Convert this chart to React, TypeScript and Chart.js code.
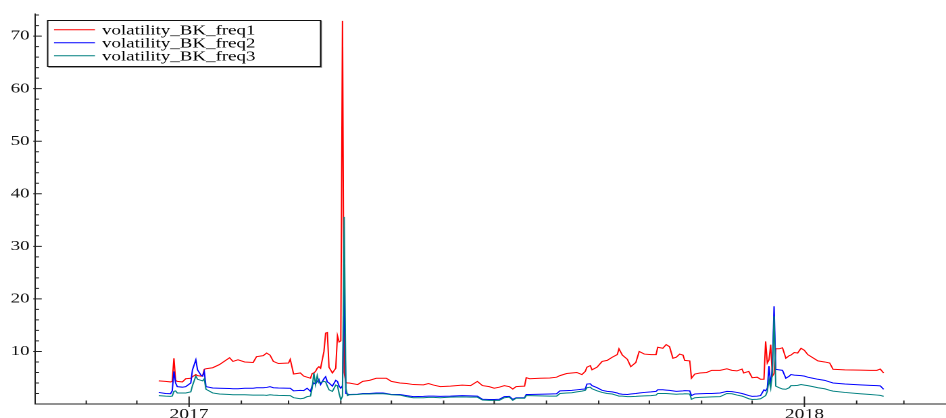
import React, { useEffect, useRef } from 'react';
import { Chart, registerables } from 'chart.js';

Chart.register(...registerables);

// ---- data ----
const seriesLabels = ['volatility_BK_freq1', 'volatility_BK_freq2', 'volatility_BK_freq3'];
const seriesColors = ['#ff0000', '#0000ff', '#008080'];

// days since 2017-01-01
const dayIndex = [
  -18, -14, -11, -10, -9, -8, -7, -4, -2, 1,
  2, 4, 5, 7, 8, 9, 10, 14, 18, 24,
  26, 29, 33, 38, 40, 44, 46, 48, 50, 53,
  59, 60, 62, 66, 68, 70, 72, 73, 74, 75,
  76, 77, 78, 80, 81, 82, 83, 85, 87, 88,
  89, 90, 91, 92, 93, 94, 95, 100, 103, 107,
  111, 115, 117, 120, 125, 129, 133, 139, 142, 145,
  149, 155, 162, 167, 171, 174, 178, 181, 184, 187,
  190, 192, 194, 196, 199, 200, 202, 208, 214, 218,
  220, 224, 227, 230, 233, 235, 236, 238, 239, 242,
  245, 248, 251, 254, 255, 257, 260, 262, 265, 267,
  270, 274, 277, 278, 281, 283, 285, 287, 289, 291,
  293, 294, 297, 298, 300, 303, 307, 310, 315, 319,
  322, 325, 328, 329, 332, 334, 337, 339, 341, 342,
  343, 344, 345, 346, 347, 348, 350, 352, 354, 356,
  357, 359, 361, 363, 365, 367, 370, 373, 377, 380,
  382, 389, 398, 404, 408, 410, 412,
];

const freq1 = [
  4.4, 4.3, 4.2, 4.3, 8.7, 4.5, 4.3, 4.2, 4.8, 4.9,
  5.2, 5.6, 5.4, 5.3, 5.3, 6.6, 6.7, 6.9, 7.5, 8.8,
  8.1, 8.4, 8.0, 7.9, 9.0, 9.2, 9.7, 9.3, 8.1, 7.7,
  7.8, 8.5, 5.7, 5.9, 5.3, 5.1, 4.9, 5.8, 5.9, 6.2,
  6.8, 7.1, 6.8, 10.0, 13.5, 13.6, 7.0, 5.9, 6.8, 13.0,
  11.8, 12.0, 72.9, 6.0, 4.1, 4.0, 4.0, 3.7, 4.3, 4.5,
  4.9, 4.9, 4.9, 4.3, 4.0, 3.9, 3.7, 3.65, 3.9, 3.6,
  3.3, 3.4, 3.6, 3.5, 4.3, 3.5, 3.3, 3.0, 3.2, 3.5,
  3.3, 2.85, 3.3, 3.35, 3.4, 5.0, 4.8, 4.9, 4.95, 5.1,
  5.4, 5.8, 5.9, 6.0, 5.6, 6.2, 7.0, 7.3, 6.5, 7.0,
  8.1, 8.3, 8.9, 9.4, 10.5, 9.3, 8.5, 7.1, 7.9, 10.0,
  9.5, 9.4, 9.4, 10.8, 10.6, 11.3, 10.9, 8.7, 8.9, 9.5,
  9.3, 8.3, 8.2, 4.9, 5.7, 5.9, 6.0, 6.4, 6.4, 6.7,
  6.4, 6.3, 6.65, 5.9, 6.2, 5.0, 5.1, 4.7, 4.7, 11.9,
  7.8, 8.4, 11.3, 5.3, 5.8, 10.5, 10.5, 10.7, 8.7, 9.2,
  9.3, 9.8, 9.7, 10.6, 10.2, 9.4, 8.8, 8.2, 8.0, 7.8,
  6.6, 6.5, 6.45, 6.4, 6.4, 6.65, 5.9,
];

const freq2 = [
  2.2, 2.0, 1.95, 2.5, 6.2, 4.0, 3.3, 3.2, 3.3, 4.0,
  6.5, 8.4, 6.5, 5.5, 5.3, 6.2, 3.3, 3.05, 3.0, 2.95,
  2.9, 2.9, 3.0, 3.0, 3.1, 3.1, 3.15, 3.3, 3.1, 3.05,
  3.0, 3.0, 2.5, 2.6, 2.55, 3.0, 2.4, 3.5, 4.0, 3.8,
  4.3, 4.7, 3.7, 4.8, 5.2, 4.2, 4.0, 3.4, 4.5, 4.3,
  3.4, 3.0, 3.5, 22.0, 2.0, 1.9, 1.8, 1.85, 2.0, 2.0,
  2.1, 2.1, 2.0, 1.8, 1.8, 1.6, 1.4, 1.45, 1.5, 1.5,
  1.45, 1.5, 1.6, 1.55, 1.5, 0.9, 0.85, 0.85, 0.9, 1.4,
  1.45, 0.9, 1.2, 1.2, 1.2, 1.8, 1.8, 1.85, 1.9, 1.95,
  2.5, 2.55, 2.6, 2.7, 2.8, 2.85, 3.8, 3.85, 3.5, 3.1,
  2.6, 2.4, 2.3, 2.1, 1.95, 1.85, 1.8, 1.9, 2.0, 2.1,
  2.2, 2.3, 2.4, 2.7, 2.7, 2.65, 2.6, 2.5, 2.4, 2.45,
  2.5, 2.55, 2.5, 1.6, 1.9, 1.95, 2.0, 2.0, 2.1, 2.4,
  2.35, 2.2, 2.0, 1.9, 1.6, 1.45, 1.5, 1.6, 2.7, 2.5,
  3.0, 7.2, 3.5, 7.0, 18.6, 6.6, 6.5, 6.4, 4.9, 5.3,
  5.6, 5.5, 5.45, 5.4, 5.3, 5.1, 4.9, 4.7, 4.5, 4.2,
  4.0, 3.8, 3.65, 3.55, 3.5, 3.45, 2.8,
];

const freq3 = [
  1.6, 1.5, 1.45, 1.5, 2.4, 2.5, 2.1, 2.1, 2.1, 2.3,
  3.5, 5.3, 4.7, 4.5, 4.4, 4.8, 2.8, 2.1, 1.9, 1.8,
  1.75, 1.75, 1.75, 1.7, 1.7, 1.7, 1.65, 1.75, 1.7, 1.65,
  1.6, 1.6, 1.2, 1.0, 1.1, 1.4, 1.5, 3.0, 5.9, 3.7,
  5.4, 4.0, 4.1, 4.3, 4.2, 3.4, 2.7, 2.4, 3.6, 3.5,
  2.0, 0.8, 1.5, 35.6, 3.0, 1.6, 1.75, 1.8, 1.9, 1.9,
  1.95, 1.95, 1.9, 1.75, 1.7, 1.4, 1.2, 1.2, 1.25, 1.25,
  1.2, 1.3, 1.35, 1.3, 1.3, 0.75, 0.7, 0.7, 0.7, 1.2,
  1.3, 0.7, 1.1, 1.1, 1.1, 1.6, 1.6, 1.55, 1.5, 1.5,
  2.0, 2.1, 2.15, 2.3, 2.45, 2.6, 3.1, 3.2, 2.9, 2.5,
  2.2, 2.0, 1.9, 1.6, 1.5, 1.5, 1.4, 1.4, 1.45, 1.5,
  1.55, 1.6, 1.7, 2.0, 2.0, 2.0, 1.95, 1.9, 1.85, 1.9,
  1.9, 1.95, 1.9, 0.9, 1.2, 1.25, 1.3, 1.35, 1.4, 2.0,
  1.95, 1.7, 1.5, 1.4, 1.0, 0.85, 0.9, 1.0, 1.4, 1.6,
  2.4, 4.6, 3.0, 6.0, 16.7, 3.4, 3.1, 2.85, 2.8, 3.1,
  3.5, 3.5, 3.55, 3.7, 3.6, 3.5, 3.3, 3.1, 2.9, 2.6,
  2.45, 2.2, 1.95, 1.8, 1.7, 1.65, 1.45,
];

const yearTickDays = [0, 365];
const yearTickLabels = ['2017', '2018'];
const monthTickDays = [-61, -31, 0, 31, 59, 90, 120, 151, 181, 212, 243, 273, 304, 334, 365, 396, 424];
const xRange = [-91.4, 449];
const yRange = [0, 74.2];
const yMajorStep = 10;
const yMinorStep = 2;

// ---- layout (logical canvas is stretched horizontally to 946px) ----
const LOGICAL_W = 700;
const H = 418;
const SX = 946 / LOGICAL_W;
const FONT_FAMILY = "'Liberation Serif', 'Times New Roman', serif";

const overlayPlugin = {
  id: 'overlay',
  afterDraw(chart: any) {
    const { ctx, chartArea: a, scales } = chart;
    const x = scales.x;
    const y = scales.y;
    ctx.save();
    ctx.strokeStyle = '#222';
    ctx.lineWidth = 1;
    ctx.beginPath();
    for (const d of monthTickDays) {
      if (d < x.min || d > x.max) continue;
      const px = x.getPixelForValue(d);
      const major = yearTickDays.includes(d);
      ctx.moveTo(px, a.bottom + (major ? 3 : 0));
      ctx.lineTo(px, a.bottom - (major ? 7.5 : 3.5));
    }
    for (let v = yMinorStep; v <= y.max; v += yMinorStep) {
      const py = y.getPixelForValue(v);
      const major = v % yMajorStep === 0;
      ctx.moveTo(a.left - (major ? 1.3 : 0), py);
      ctx.lineTo(a.left + (major ? 5 : 3), py);
    }
    ctx.stroke();

    // legend box
    const bx = 47 / SX;
    const bw = (320 - 47) / SX;
    const by = 20;
    const bh = 46;
    ctx.fillStyle = '#9a9a9a';
    ctx.fillRect(bx + 1, by + 1, bw + 0.5, bh + 1);
    ctx.fillStyle = '#ffffff';
    ctx.fillRect(bx, by, bw, bh);
    ctx.strokeStyle = '#111';
    ctx.strokeRect(bx + 0.5, by + 0.5, bw, bh);

    const rows = [29.7, 42.7, 55.7];
    ctx.font = `14px ${FONT_FAMILY}`;
    ctx.textBaseline = 'alphabetic';
    ctx.textAlign = 'left';
    chart.data.datasets.forEach((ds: any, i: number) => {
      const ry = rows[i];
      ctx.strokeStyle = ds.borderColor;
      ctx.lineWidth = 1;
      ctx.beginPath();
      ctx.moveTo(54 / SX, ry);
      ctx.lineTo(95 / SX, ry);
      ctx.stroke();
      ctx.fillStyle = '#000';
      ctx.fillText(ds.label, 102 / SX, ry + 4.6);
    });
    ctx.restore();
  },
};

export default function App() {
  const ref = useRef<HTMLCanvasElement>(null);

  useEffect(() => {
    const values = [freq1, freq2, freq3];
    const datasets = values.map((vals, k) => ({
      label: seriesLabels[k],
      data: dayIndex.map((d, i) => ({ x: d, y: vals[i] })),
      borderColor: seriesColors[k],
      backgroundColor: seriesColors[k],
      borderWidth: 1,
      pointRadius: 0,
      tension: 0,
      fill: false,
      order: 3 - k,
    }));

    const chart = new Chart(ref.current as HTMLCanvasElement, {
      type: 'line',
      data: { datasets },
      options: {
        responsive: false,
        animation: false,
        devicePixelRatio: 2,
        layout: { padding: { top: 14, left: 0, right: 0, bottom: 0 } },
        plugins: { legend: { display: false }, tooltip: { enabled: false } },
        scales: {
          x: {
            type: 'linear',
            min: xRange[0],
            max: xRange[1],
            grid: { display: false, drawTicks: false },
            border: { display: true, color: '#222', width: 1 },
            ticks: {
              autoSkip: false,
              maxRotation: 0,
              padding: 2,
              color: '#111',
              font: { family: FONT_FAMILY, size: 14.5 },
              callback: (v: any) => {
                const i = yearTickDays.indexOf(Number(v));
                return i >= 0 ? yearTickLabels[i] : '';
              },
            },
            afterBuildTicks: (s: any) => {
              s.ticks = yearTickDays.map((v) => ({ value: v }));
            },
            afterFit: (s: any) => {
              s.height = H - 404;
            },
          },
          y: {
            type: 'linear',
            min: yRange[0],
            max: yRange[1],
            grid: { display: false, drawTicks: false },
            border: { display: true, color: '#222', width: 1 },
            ticks: {
              stepSize: yMajorStep,
              includeBounds: false,
              padding: 4,
              color: '#111',
              font: { family: FONT_FAMILY, size: 14 },
              callback: (v: any) => (Number(v) === 0 ? '' : String(v)),
            },
            afterFit: (s: any) => {
              s.width = 35 / SX;
            },
          },
        },
      } as any,
      plugins: [overlayPlugin],
    });
    return () => chart.destroy();
  }, []);

  return (
    <div style={{ position: 'absolute', left: 0, top: 0, width: 946, height: H, background: '#fff', overflow: 'hidden' }}>
      <canvas
        ref={ref}
        width={LOGICAL_W}
        height={H}
        style={{ width: '946px', height: `${H}px`, display: 'block' }}
      />
    </div>
  );
}
